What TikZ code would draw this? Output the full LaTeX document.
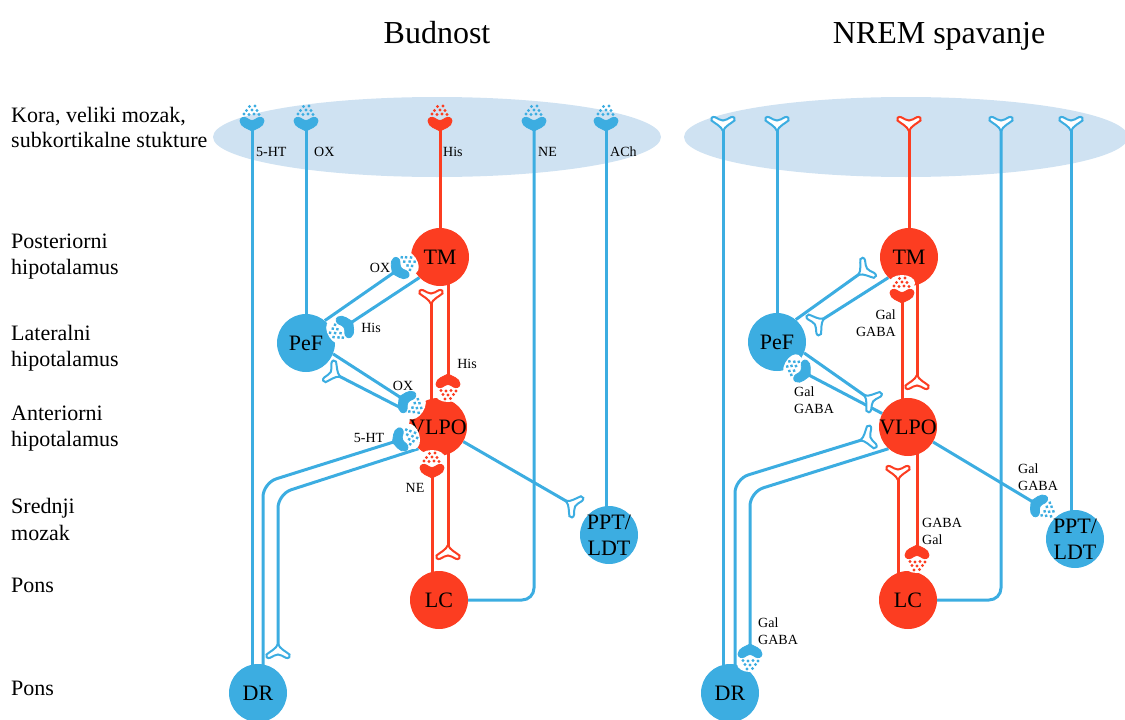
\documentclass[tikz,border=0pt]{standalone}
\usepackage{fontspec}
\setmainfont{Liberation Serif}
\usetikzlibrary{backgrounds}

\definecolor{neuroblue}{RGB}{60,173,225}
\definecolor{neurored}{RGB}{252,61,33}
\definecolor{cortexblue}{RGB}{207,226,242}

% synaptic boutons, opening towards +y, stem from -y
\newcommand{\synapsebulb}[1]{\path[#1] (0,-8) .. controls (-3,-6) and (-12,-4) .. (-12,2) .. controls (-12,5.5) and (-8,6.5) .. (-5.5,5) .. controls (-3.5,3.5) and (-1.5,2.5) .. (0,2.5) .. controls (1.5,2.5) and (3.5,3.5) .. (5.5,5) .. controls (8,6.5) and (12,5.5) .. (12,2) .. controls (12,-4) and (3,-6) .. (0,-8) -- cycle;}
\newcommand{\synapsecup}[1]{\path[#1] (0,-8) .. controls (-2,-3) and (-8,-0.5) .. (-11.5,2.5) .. controls (-13,4.5) and (-10.5,7) .. (-8,5.8) .. controls (-5,4.2) and (-2,2.5) .. (0,2.5) .. controls (2,2.5) and (5,4.2) .. (8,5.8) .. controls (10.5,7) and (13,4.5) .. (11.5,2.5) .. controls (8,-0.5) and (2,-3) .. (0,-8) -- cycle;}

\tikzset{
  cell/.style={circle, minimum size=58pt, inner sep=-4pt, align=center, font=\fontsize{22}{26}\selectfont},
  bcell/.style={cell, fill=neuroblue},
  rcell/.style={cell, fill=neurored},
  bax/.style={draw=neuroblue, line width=3pt},
  rax/.style={draw=neurored, line width=3pt},
  tag/.style={inner sep=0pt, font=\fontsize{14}{17}\selectfont},
  region/.style={inner sep=0pt, anchor=base west, font=\fontsize{22}{26}\selectfont},
  heading/.style={inner sep=0pt, anchor=base, font=\fontsize{32}{38}\selectfont},
  pics/topsyn/.style={code={
    \foreach \a/\b in {-8/9,-3/8.5,2/9,7/8.5,-5.5/12.5,0/13,5/12.5,-2.5/16.5,3/17}
      \fill[#1] (\a,\b) circle [radius=1.7];
    \synapsebulb{fill=#1, draw=#1, line width=0.8pt}
  }},
  pics/onsyn/.style={code={
    \fill[white] (0,12) ellipse [x radius=13, y radius=8];
    \foreach \a/\b in {-8/9,-3/8.5,2/9,7/8.5,-5.5/12.5,0/13,5/12.5,-2.5/16.5,3/17}
      \fill[#1] (\a,\b) circle [radius=1.7];
    \synapsebulb{fill=#1, draw=#1, line width=0.8pt}
  }},
  pics/offsyn/.style={code={
    \synapsecup{fill=white, draw=#1, line width=2pt}
  }},
}

\begin{document}
\begin{tikzpicture}[x=1pt,y=1pt]
\useasboundingbox (0,0) rectangle (1125,-720);

% titles
\node[heading] (hWake) at (437,-43) {Budnost};
\node[heading] (hNrem) at (939,-43) {NREM spavanje};

% brain regions
\node[region] (rKora) at (11,-122) {Kora, veliki mozak,};
\node[region] (rSub) at (11,-147) {subkortikalne stukture};
\node[region] (rPost) at (11,-248) {Posteriorni};
\node[region] (rPostH) at (11,-274) {hipotalamus};
\node[region] (rLat) at (11,-340) {Lateralni};
\node[region] (rLatH) at (11,-366) {hipotalamus};
\node[region] (rAnt) at (11,-420) {Anteriorni};
\node[region] (rAntH) at (11,-446) {hipotalamus};
\node[region] (rSred) at (11,-513) {Srednji};
\node[region] (rSredM) at (11,-540) {mozak};
\node[region] (rPons) at (11,-592) {Pons};
\node[region] (rPonsB) at (11,-695) {Pons};

% wake: cell groups
\node[rcell] (TMw) at (440,-257) {TM};
\node[bcell] (PeFw) at (306,-343) {PeF};
\node[rcell] (VLPOw) at (438,-427) {VLPO};
\node[rcell] (LCw) at (439,-600) {LC};
\node[bcell] (DRw) at (258,-693) {DR};
\node[bcell] (PPTw) at (609,-535) {PPT/\\LDT};

% NREM: cell groups
\node[rcell] (TMn) at (909,-257) {TM};
\node[bcell] (PeFn) at (777,-342) {PeF};
\node[rcell] (VLPOn) at (908,-427) {VLPO};
\node[rcell] (LCn) at (908,-600) {LC};
\node[bcell] (DRn) at (730,-693) {DR};
\node[bcell] (PPTn) at (1075,-539) {PPT/\\LDT};

% wake: terminals
\coordinate (topHtW) at (252,-123);
\coordinate (topOxW) at (306,-123);
\coordinate (topHisW) at (440,-123);
\coordinate (topNeW) at (534,-123);
\coordinate (topAchW) at (606,-123);
\coordinate (pefTmW) at (399,-269);
\coordinate (tmPefW) at (346,-326);
\coordinate (vlPefW) at (333,-373);
\coordinate (vlPptW) at (573,-505);
\coordinate (pefVlW) at (406,-401);
\coordinate (tmVlW) at (448,-382);
\coordinate (vlTmW) at (431,-296);
\coordinate (vlLcW) at (448,-553);
\coordinate (lcVlW) at (432,-470);
\coordinate (drVlW) at (400,-440);
\coordinate (drBendW) at (263,-483);
\coordinate (vlBendW) at (278,-494);
\coordinate (vlDrW) at (278,-652);

% NREM: terminals
\coordinate (topHtN) at (723,-123);
\coordinate (topOxN) at (777,-123);
\coordinate (topHisN) at (909,-123);
\coordinate (topNeN) at (1001,-123);
\coordinate (topAchN) at (1071,-123);
\coordinate (pefTmN) at (865,-270);
\coordinate (tmPefN) at (817,-323);
\coordinate (vlPefN) at (803,-372);
\coordinate (vlPptN) at (1038,-505);
\coordinate (pefVlN) at (871,-400);
\coordinate (vlTmN) at (902,-295);
\coordinate (tmVlN) at (917,-383);
\coordinate (vlLcN) at (917,-553);
\coordinate (lcVlN) at (898,-472);
\coordinate (drVlN) at (868,-438);
\coordinate (drBendN) at (735,-479);
\coordinate (vlBendN) at (750,-492);
\coordinate (vlDrN) at (750,-652);

\begin{scope}[on background layer]
  \fill[cortexblue] (437,-137) ellipse (224 and 40);
  \fill[cortexblue] (906,-137) ellipse (222 and 40);

  % wake
  \draw[bax] (topHtW |- DRw) -- (topHtW);
  \draw[bax] (PeFw) -- (topOxW);
  \draw[rax] (TMw) -- (topHisW);
  \draw[bax, rounded corners=12pt] (LCw) -| (topNeW);
  \draw[bax] (topAchW |- PPTw) -- (topAchW);
  \draw[bax] (PeFw.50) -- (pefTmW);
  \draw[bax] (TMw.225) -- (tmPefW);
  \draw[bax] (VLPOw) -- (vlPefW);
  \draw[bax] (VLPOw) -- (vlPptW);
  \draw[bax] (PeFw.-22) -- (pefVlW);
  \draw[rax] (tmVlW |- TMw) -- (tmVlW);
  \draw[rax] (vlTmW |- VLPOw) -- (vlTmW);
  \draw[rax] (vlLcW |- VLPOw) -- (vlLcW);
  \draw[rax] (lcVlW |- LCw) -- (lcVlW);
  \draw[bax, rounded corners=14pt] (drBendW |- DRw) -- (drBendW) -- (drVlW);
  \draw[bax, rounded corners=14pt] (VLPOw.228) -- (vlBendW) -- (vlDrW);

  % NREM
  \draw[bax] (topHtN |- DRn) -- (topHtN);
  \draw[bax] (PeFn) -- (topOxN);
  \draw[rax] (TMn) -- (topHisN);
  \draw[bax, rounded corners=12pt] (LCn) -| (topNeN);
  \draw[bax] (topAchN |- PPTn) -- (topAchN);
  \draw[bax] (PeFn.50) -- (pefTmN);
  \draw[bax] (TMn.225) -- (tmPefN);
  \draw[bax] (VLPOn) -- (vlPefN);
  \draw[bax] (VLPOn) -- (vlPptN);
  \draw[bax] (PeFn.-22) -- (pefVlN);
  \draw[rax] (vlTmN |- VLPOn) -- (vlTmN);
  \draw[rax] (tmVlN |- TMn) -- (tmVlN);
  \draw[rax] (vlLcN |- VLPOn) -- (vlLcN);
  \draw[rax] (lcVlN |- LCn) -- (lcVlN);
  \draw[bax, rounded corners=14pt] (drBendN |- DRn) -- (drBendN) -- (drVlN);
  \draw[bax, rounded corners=14pt] (VLPOn.228) -- (vlBendN) -- (vlDrN);
\end{scope}

% wake: boutons
\pic at (topHtW) {topsyn=neuroblue};
\pic at (topOxW) {topsyn=neuroblue};
\pic at (topHisW) {topsyn=neurored};
\pic at (topNeW) {topsyn=neuroblue};
\pic at (topAchW) {topsyn=neuroblue};
\pic[rotate=-55] at (pefTmW) {onsyn=neuroblue};
\pic[rotate=123] at (tmPefW) {onsyn=neuroblue};
\pic[rotate=63] at (vlPefW) {offsyn=neuroblue};
\pic[rotate=-120] at (vlPptW) {offsyn=neuroblue};
\pic[rotate=-123] at (pefVlW) {onsyn=neuroblue};
\pic[rotate=180] at (tmVlW) {onsyn=neurored};
\pic at (vlTmW) {offsyn=neurored};
\pic[rotate=180] at (vlLcW) {offsyn=neurored};
\pic at (lcVlW) {onsyn=neurored};
\pic[rotate=-73] at (drVlW) {onsyn=neuroblue};
\pic[rotate=180] at (vlDrW) {offsyn=neuroblue};

% NREM: boutons
\pic at (topHtN) {offsyn=neuroblue};
\pic at (topOxN) {offsyn=neuroblue};
\pic at (topHisN) {offsyn=neurored};
\pic at (topNeN) {offsyn=neuroblue};
\pic at (topAchN) {offsyn=neuroblue};
\pic[rotate=-54] at (pefTmN) {offsyn=neuroblue};
\pic[rotate=122] at (tmPefN) {offsyn=neuroblue};
\pic[rotate=62] at (vlPefN) {onsyn=neuroblue};
\pic[rotate=-121] at (vlPptN) {onsyn=neuroblue};
\pic[rotate=-125] at (pefVlN) {offsyn=neuroblue};
\pic at (vlTmN) {onsyn=neurored};
\pic[rotate=180] at (tmVlN) {offsyn=neurored};
\pic[rotate=180] at (vlLcN) {onsyn=neurored};
\pic at (lcVlN) {offsyn=neurored};
\pic[rotate=-73] at (drVlN) {offsyn=neuroblue};
\pic[rotate=180] at (vlDrN) {onsyn=neuroblue};

% wake: transmitters
\node[tag, anchor=west] (tHtTop) at (256,-152) {5-HT};
\node[tag, anchor=west] (tOxTop) at (314,-152) {OX};
\node[tag, anchor=west] (tHisTop) at (443,-152) {His};
\node[tag, anchor=west] (tNeTop) at (538,-152) {NE};
\node[tag, anchor=west] (tAchTop) at (610,-152) {ACh};
\node[tag] (tOxTm) at (380,-268) {OX};
\node[tag] (tHisPef) at (371,-328) {His};
\node[tag] (tHisVl) at (467,-364) {His};
\node[tag] (tOxVl) at (403,-386) {OX};
\node[tag] (tHtVl) at (369,-438) {5-HT};
\node[tag] (tNeVl) at (415,-488) {NE};

% NREM: transmitters
\node[tag, anchor=east, align=right] (gTm) at (896,-323) {Gal\\GABA};
\node[tag, anchor=west, align=left] (gPef) at (794,-400) {Gal\\GABA};
\node[tag, anchor=west, align=left] (gPpt) at (1018,-477) {Gal\\GABA};
\node[tag, anchor=west, align=left] (gDr) at (758,-631) {Gal\\GABA};
\node[tag, anchor=west, align=left] (gLc) at (922,-531) {GABA\\Gal};
\end{tikzpicture}
\end{document}
